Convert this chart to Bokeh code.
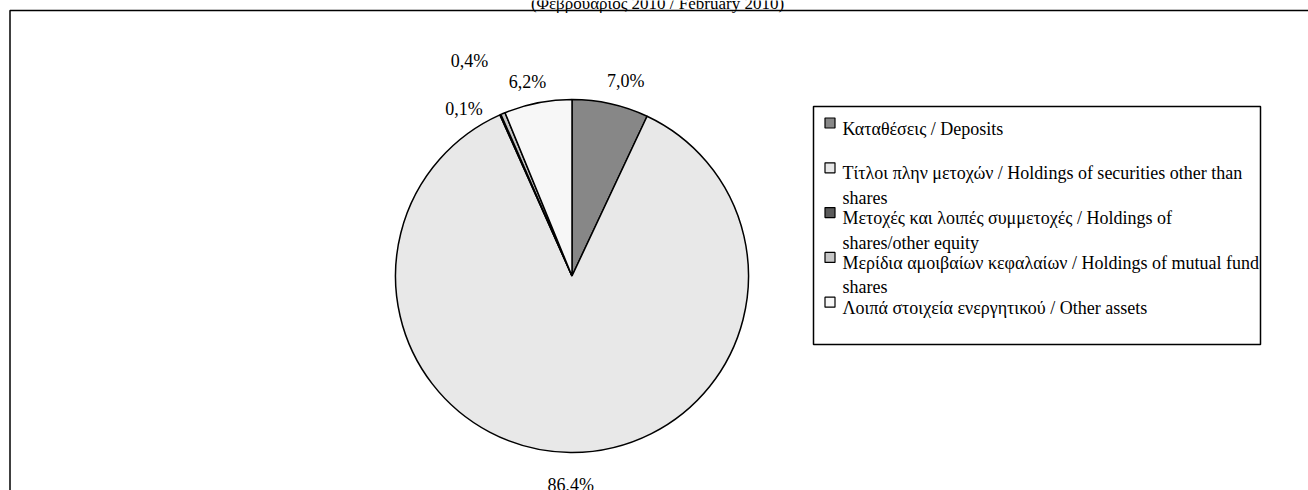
import numpy as np
from bokeh.plotting import figure
from bokeh.models import Range1d, ColumnDataSource
from bokeh.core.properties import value
from bokeh.embed import file_html
from bokeh.resources import INLINE

# ---------------- data ----------------
title_text = "(Φεβρουάριος 2010 / February 2010)"
categories = [
    "Καταθέσεις / Deposits",
    "Τίτλοι πλην μετοχών / Holdings of securities other than\nshares",
    "Μετοχές και λοιπές συμμετοχές / Holdings of\nshares/other equity",
    "Μερίδια αμοιβαίων κεφαλαίων / Holdings of mutual fund\nshares",
    "Λοιπά στοιχεία ενεργητικού / Other assets",
]
shares_pct = [7.0, 86.4, 0.1, 0.4, 6.2]
pct_labels = ["7,0%", "86,4%", "0,1%", "0,4%", "6,2%"]
slice_colors = ["#878787", "#e8e8e8", "#5a5a5a", "#c6c6c6", "#f7f7f7"]

# ---------------- layout (pixels, y downwards) ----------------
W, H = 1308, 490
FONT = "Liberation Serif"
cx_px, cy_px, R = 571.5, 275.5, 176.5
# label placement (Excel-like outside labels, with collision nudges)
label_r = [202.7, 209.0, 199.3, 238.2, 198.7]
label_shift_deg = [-2.8, 0.2, 8.9, 2.5, 1.8]

def Y(py):
    return H - py

vals = np.array(shares_pct, dtype=float)
tot = vals.sum()
cum_end = np.cumsum(vals) / tot
cum_start = cum_end - vals / tot
start_ang = np.pi / 2 - 2 * np.pi * cum_end
end_ang = np.pi / 2 - 2 * np.pi * cum_start
mid_ang = (start_ang + end_ang) / 2

p = figure(width=W, height=H, x_range=Range1d(0, W), y_range=Range1d(0, H),
           output_backend="svg", toolbar_location=None,
           x_axis_location=None, y_axis_location=None, min_border=0,
           background_fill_color="white", border_fill_color="white")
p.grid.visible = False
p.outline_line_color = None

# outer chart-area frame (extends past the window on right/bottom)
p.quad(left=[9.5], right=[W + 20], top=[Y(10)], bottom=[Y(H + 20)],
       fill_color=None, line_color="black", line_width=1.5)

# title (mostly cut off at top, as in the reference)
p.text(x=[657], y=[Y(3)], text=[title_text], text_font=value(FONT),
       text_font_size="17px", text_align="center", text_baseline="alphabetic",
       text_color="black")

# pie
src = ColumnDataSource(dict(start=start_ang, end=end_ang, color=slice_colors))
p.wedge(x=cx_px, y=Y(cy_px), radius=R, radius_units="screen",
        start_angle="start", end_angle="end", direction="anticlock",
        fill_color="color", line_color="black", line_width=1.5, source=src)

# percentage labels
la = mid_ang + np.deg2rad(label_shift_deg)
lx = cx_px + np.array(label_r) * np.cos(la)
ly = Y(cy_px) + np.array(label_r) * np.sin(la)
p.text(x=lx, y=ly, text=pct_labels, text_font=value(FONT),
       text_font_size="18px", text_align="center", text_baseline="middle",
       text_color="black")

# legend box
lg_left, lg_right, lg_top, lg_bottom = 813, 1260, 106, 344
p.quad(left=[lg_left], right=[lg_right], top=[Y(lg_top)], bottom=[Y(lg_bottom)],
       fill_color="white", line_color="black", line_width=1.5)

first_base, entry_step, wrap_step = 128.0, 44.8, 24.5
sq_x, txt_x = 829.5, 842
mk_x, mk_y, t_x, t_y, t_txt = [], [], [], [], []
for i, lab in enumerate(categories):
    base = first_base + i * entry_step
    mk_x.append(sq_x)
    mk_y.append(Y(base - 5.5))
    for j, line in enumerate(lab.split("\n")):
        t_x.append(txt_x)
        t_y.append(Y(base + j * wrap_step))
        t_txt.append(line)

p.scatter(x=mk_x, y=mk_y, marker="square", size=10, fill_color=slice_colors,
          line_color="black", line_width=1.2)
p.text(x=t_x, y=t_y, text=t_txt, text_font=value(FONT), text_font_size="18px",
       text_align="left", text_baseline="alphabetic", text_color="black")

open("out.html", "w").write(file_html(p, INLINE))
